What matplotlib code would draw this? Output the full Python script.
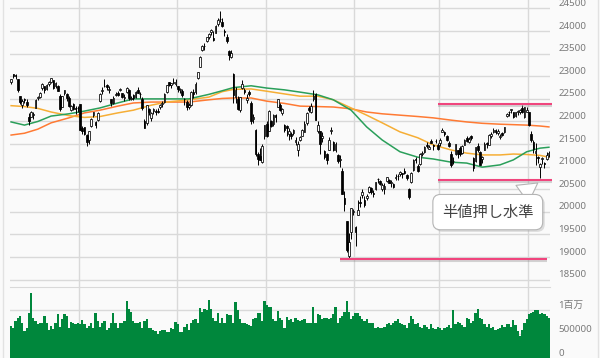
import matplotlib
matplotlib.use("Agg")
import matplotlib.pyplot as plt
import matplotlib.patheffects as pe
import matplotlib.transforms as mtransforms
from matplotlib.lines import Line2D
import numpy as np

BG = "#fafafa"
GRID = "#d9d9d9"
LABEL = "#7a7a7a"
PINK = "#f0457d"
VOL_GREEN = "#00873c"
FONT = ["Noto Sans", "Noto Sans CJK JP", "DejaVu Sans"]

# daily candles, 2018-05-18 .. 2019-05-20 (one row per month)
opens = [
    22880, 23040, 23020, 22930, 22560, 22370, 22500, 22430, 22100, 22100,
    22150, 22300, 22510, 22540, 22730, 22780, 22720, 22830, 22880, 22910, 22780, 22780, 22560, 22330, 22620, 22600, 22510, 22260, 22390, 22290, 22290,
    22380, 21850, 21870, 21700, 21580, 21890, 22150, 21980, 22030, 22450, 22680, 22780, 22800, 22700, 22500, 22420, 22580, 22640, 22690, 22620, 22520,
    22660, 22700, 22500, 22580, 22550, 22700, 22600, 22500, 22000, 21960, 22280, 22080, 22240, 22240, 22230, 22310, 22380, 22440, 22650, 22870, 22800, 22860, 22830,
    22780, 22700, 22680, 22500, 22440, 22330, 22360, 22650, 22660, 22960, 23210, 23580, 23660, 23790, 23870, 23970, 23850, 23960,
    24160, 24260, 24200, 24010, 23860, 23550, 23430, 23050, 22550, 22500, 22250, 22740, 22700, 22470, 22650, 22420, 22060, 21820, 21290, 21230, 21100, 21670,
    21950, 21800, 22000, 21950, 22140, 22330, 22360, 22190, 21920, 21900, 21720, 21720, 21750, 21550, 21360, 21590, 21690, 21770, 21970, 22300, 22210,
    22500, 22600, 21800, 21790, 21640, 21350, 21280, 21380, 21790, 21540, 21380, 21260, 21150, 20910, 20310, 19790, 19030, 19560, 20000,
    19660, 19940, 20220, 20370, 20270, 20300, 20450, 20530, 20410, 20500, 20720, 20680, 20500, 20510, 20690, 20700, 20630, 20610, 20740,
    20800, 20830, 20850, 20900, 20820, 20510, 20670, 20930, 21170, 21020, 21060, 21280, 21330, 21470, 21400, 21560, 21480, 21560, 21490,
    21520, 21770, 21760, 21680, 21530, 21290, 21120, 21280, 21360, 21410, 21300, 21490, 21640, 21550, 21690, 21200, 21130, 21460, 21320, 21170,
    21380, 21530, 21490, 21690, 21770, 21820, 21740, 21660, 21750, 21770, 22120, 22200, 22260, 22200, 22120, 22220, 22200, 22290, 22100, 22200,
    22200, 21720, 21550, 21310, 21210, 20990, 21180, 21080, 21170, 21270,
]
highs = [
    22950, 23050, 23050, 22950, 22570, 22490, 22520, 22500, 22180, 22240,
    22200, 22490, 22560, 22650, 22860, 22790, 22820, 22900, 22970, 22920, 22880, 22800, 22600, 22560, 22700, 22620, 22560, 22370, 22420, 22340, 22340,
    22390, 21900, 21880, 21720, 21800, 22080, 22200, 22020, 22200, 22620, 22770, 22950, 22830, 22780, 22500, 22560, 22650, 22680, 22750, 22640, 22600,
    22760, 22720, 22560, 22600, 22680, 22760, 22660, 22550, 22050, 22360, 22300, 22200, 22300, 22280, 22300, 22380, 22450, 22620, 22810, 22880, 22860, 22960, 22930,
    22780, 22740, 22710, 22530, 22480, 22410, 22680, 22720, 22870, 23100, 23440, 23700, 23740, 23880, 23960, 24040, 24000, 24140,
    24290, 24450, 24280, 24040, 23930, 23590, 23590, 23070, 22770, 22560, 22550, 22920, 22740, 22610, 22700, 22450, 22160, 21830, 21330, 21410, 21500, 21930,
    22010, 22260, 22040, 22160, 22170, 22490, 22400, 22290, 21950, 21930, 21860, 21770, 21830, 21650, 21560, 21680, 21830, 22010, 22200, 22350, 22410,
    22700, 22620, 22010, 21800, 21760, 21370, 21310, 21650, 21870, 21560, 21540, 21280, 21250, 20960, 20460, 19790, 19540, 20080, 20060,
    19690, 20270, 20350, 20500, 20350, 20400, 20580, 20540, 20480, 20670, 20750, 20710, 20630, 20640, 20780, 20720, 20700, 20630, 20830,
    20830, 20910, 20870, 20980, 20840, 20520, 20880, 21160, 21210, 21060, 21300, 21350, 21460, 21550, 21480, 21610, 21500, 21610, 21520,
    21640, 21860, 21800, 21700, 21560, 21340, 21220, 21510, 21370, 21450, 21470, 21610, 21670, 21650, 21710, 21210, 21430, 21520, 21340, 21230,
    21540, 21550, 21720, 21760, 21850, 21830, 21830, 21720, 21760, 21880, 22190, 22230, 22280, 22220, 22210, 22250, 22270, 22360, 22310, 22310,
    22200, 21790, 21590, 21520, 21230, 21080, 21210, 21100, 21320, 21350,
]
lows = [
    22820, 22960, 22950, 22660, 22380, 22300, 22420, 22320, 21930, 22090,
    22050, 22290, 22470, 22520, 22700, 22620, 22700, 22790, 22850, 22720, 22740, 22670, 22230, 22330, 22580, 22460, 22330, 22240, 22260, 22170, 22220,
    21810, 21720, 21700, 21460, 21500, 21880, 22100, 21850, 22000, 22440, 22600, 22760, 22700, 22620, 22350, 22380, 22560, 22560, 22670, 22520, 22450,
    22620, 22480, 22470, 22480, 22510, 22620, 22530, 22250, 21850, 21930, 22150, 22000, 22160, 22140, 22180, 22270, 22330, 22420, 22640, 22780, 22750, 22820, 22790,
    22660, 22620, 22540, 22360, 22250, 22270, 22340, 22520, 22610, 22940, 23200, 23550, 23590, 23750, 23820, 23920, 23780, 23950,
    24120, 24200, 24080, 23890, 23740, 23350, 23410, 22400, 22410, 22260, 22220, 22720, 22600, 22400, 22570, 21950, 21960, 21230, 21030, 21140, 21080, 21610,
    21660, 21780, 21870, 21900, 21980, 22310, 22230, 22140, 21770, 21690, 21600, 21620, 21700, 21490, 21240, 21560, 21690, 21760, 21930, 22220, 22190,
    22460, 22030, 21740, 21270, 21550, 21180, 21060, 21370, 21720, 21340, 21330, 21090, 20990, 20390, 20010, 19120, 18950, 19390, 19930,
    19240, 19940, 20100, 20310, 20100, 20260, 20420, 20390, 20330, 20490, 20650, 20590, 20470, 20400, 20670, 20630, 20540, 20520, 20700,
    20700, 20800, 20740, 20840, 20700, 20290, 20630, 20910, 21080, 20880, 21040, 21230, 21310, 21410, 21390, 21520, 21380, 21520, 21360,
    21450, 21760, 21680, 21560, 21440, 20990, 21050, 21250, 21200, 21240, 21280, 21480, 21550, 21530, 21590, 20910, 21110, 21330, 21030, 21090,
    21360, 21420, 21480, 21640, 21740, 21730, 21700, 21620, 21680, 21750, 22090, 22130, 22180, 22070, 22110, 22150, 22160, 22190, 22080, 22200,
    21910, 21550, 21300, 21040, 21090, 20750, 21050, 20980, 21150, 21220,
]
closes = [
    22930, 23000, 23000, 22690, 22440, 22450, 22480, 22360, 22020, 22200,
    22170, 22480, 22540, 22630, 22820, 22690, 22800, 22880, 22970, 22740, 22850, 22680, 22280, 22560, 22690, 22520, 22340, 22340, 22270, 22270, 22300,
    21810, 21790, 21720, 21550, 21790, 22050, 22200, 21930, 22190, 22600, 22700, 22790, 22760, 22700, 22400, 22510, 22610, 22590, 22710, 22540, 22550,
    22750, 22510, 22530, 22510, 22660, 22640, 22600, 22300, 21860, 22360, 22200, 22190, 22270, 22200, 22220, 22360, 22410, 22600, 22800, 22810, 22850, 22870, 22870,
    22710, 22700, 22580, 22490, 22310, 22370, 22660, 22600, 22820, 23090, 23420, 23670, 23670, 23870, 23940, 24030, 23800, 24120,
    24250, 24270, 24110, 23980, 23780, 23470, 23510, 22590, 22690, 22270, 22550, 22840, 22660, 22530, 22610, 22010, 22090, 21270, 21180, 21150, 21460, 21920,
    21690, 22240, 21900, 22150, 22090, 22490, 22250, 22270, 21810, 21850, 21800, 21680, 21820, 21580, 21510, 21650, 21810, 21950, 22180, 22260, 22350,
    22570, 22040, 21920, 21500, 21680, 21220, 21150, 21600, 21820, 21370, 21510, 21120, 21150, 20390, 20170, 19160, 19330, 20080, 20010,
    19560, 20040, 20200, 20430, 20160, 20360, 20560, 20440, 20400, 20670, 20720, 20620, 20590, 20570, 20770, 20650, 20660, 20560, 20770,
    20790, 20880, 20840, 20870, 20750, 20330, 20860, 21140, 21140, 20900, 21280, 21300, 21430, 21460, 21430, 21530, 21450, 21560, 21390,
    21600, 21820, 21730, 21600, 21460, 21030, 21130, 21500, 21290, 21290, 21450, 21580, 21570, 21610, 21630, 20980, 21430, 21380, 21030, 21210,
    21510, 21510, 21710, 21720, 21810, 21760, 21800, 21690, 21710, 21870, 22170, 22220, 22280, 22090, 22200, 22220, 22260, 22200, 22310, 22260,
    21920, 21600, 21400, 21340, 21190, 21070, 21190, 21060, 21250, 21300,
]
# volume in thousands of shares
volume_k = [
    670, 630, 780, 830, 870, 740, 560, 630, 930, 1350, 830, 780, 700, 720, 740, 870, 740, 590, 670, 610,
    740, 910, 650, 810, 910, 870, 630, 760, 740, 700, 720, 700, 800, 700, 630, 670, 740, 630, 930, 780,
    650, 740, 780, 590, 630, 740, 930, 740, 630, 740, 740, 780, 1190, 1020, 960, 780, 720, 740, 760, 630,
    780, 810, 630, 630, 590, 560, 500, 560, 590, 590, 540, 540, 630, 610, 760, 700, 540, 540, 650, 700,
    590, 740, 800, 810, 720, 1040, 960, 1020, 1000, 1200, 1020, 830, 780, 930, 740, 830, 720, 910, 890, 890,
    740, 1170, 1000, 810, 740, 720, 700, 690, 670, 810, 830, 940, 930, 780, 1190, 1110, 1060, 1060, 810, 780,
    980, 830, 800, 630, 850, 800, 810, 760, 830, 800, 780, 800, 810, 720, 720, 720, 1060, 740, 910, 890,
    810, 830, 830, 810, 830, 910, 1060, 720, 830, 870, 960, 1190, 960, 810, 870, 930, 930, 870, 810, 780,
    810, 740, 740, 720, 630, 650, 630, 630, 650, 700, 720, 690, 720, 780, 810, 740, 700, 690, 630, 720,
    870, 810, 700, 720, 650, 630, 690, 650, 610, 700, 630, 610, 650, 630, 590, 630, 650, 690, 630, 1000,
    700, 760, 720, 690, 650, 830, 810, 740, 780, 930, 1020, 830, 810, 700, 650, 700, 630, 650, 590, 610,
    630, 690, 650, 700, 700, 650, 800, 690, 560, 460, 590, 720, 810, 910, 930, 960, 1000, 1000, 910, 940,
    910, 870, 830,
]

# moving averages at these sessions
ma_days = [0, 6, 12, 18, 26, 33, 40, 48, 55, 63, 70, 80, 89, 95, 100, 108, 115, 123,
           130, 138, 145, 153, 160, 167, 175, 183, 190, 198, 205, 212, 220, 226, 232, 238, 242]
ma_green = [21990, 21920, 22000, 22120, 22170, 22230, 22300, 22410, 22500, 22500, 22500, 22500,
            22600, 22680, 22750, 22790, 22740, 22700, 22650, 22590, 22480, 22250, 21880, 21590,
            21330, 21210, 21170, 21100, 21080, 20990, 21040, 21150, 21330, 21410, 21430]
ma_yellow = [22350, 22330, 22290, 22210, 22130, 22090, 22110, 22190, 22250, 22360, 22430, 22480,
             22540, 22660, 22710, 22720, 22670, 22610, 22560, 22560, 22480, 22300, 22140, 21970,
             21770, 21640, 21480, 21370, 21300, 21260, 21260, 21280, 21270, 21250, 21210]
ma_red = [21700, 21740, 21830, 21970, 22080, 22190, 22250, 22340, 22410, 22430, 22430, 22430,
          22480, 22510, 22520, 22520, 22450, 22400, 22340, 22330, 22320, 22280, 22210, 22170,
          22140, 22110, 22080, 22030, 21990, 21960, 21940, 21930, 21920, 21900, 21880]

# first session of Jul, Sep, Nov, Jan, Mar, May
month_starts = [31, 75, 115, 155, 193, 233]

price_ticks = list(range(18500, 25000, 500))
vol_ticks = [0, 500, 1000]
vol_tick_labels = ["0", "500000", "1百万"]

# horizontal marker lines: level, first session, last session
level_values = [22380, 20700, 18950]
level_from = [192, 192, 148]
level_to = [243.5, 243.5, 241]

o = np.array(opens)
h = np.array(highs)
l = np.array(lows)
c = np.array(closes)
x = np.arange(len(c))
up = c >= o

fig = plt.figure(figsize=(6, 3.58), dpi=100, facecolor=BG)
ax = fig.add_axes([10 / 600, 1 - 287 / 358, 540 / 600, 287 / 358], facecolor=BG)
axv = fig.add_axes([10 / 600, 0, 540 / 600, 71 / 358], facecolor=BG, sharex=ax)

# labels sit a few pixels above their grid line
lift = mtransforms.ScaledTranslation(0, 5 / 100, fig.dpi_scale_trans)

for a in (ax, axv):
    for s in a.spines.values():
        s.set_visible(False)
    a.tick_params(length=0, labelleft=False, labelbottom=False)
    for m in month_starts:
        a.axvline(m - 0.5, color=GRID, lw=1, zorder=0)

ax.set_xlim(-0.5, len(c) - 0.5)
ax.set_ylim(18338, 24688)
ax.set_yticks(price_ticks)
ax.set_xticks([])
ax.grid(axis="y", color=GRID, lw=1, zorder=0)
for v in price_ticks:
    ax.text(1.015, v, str(v), transform=ax.get_yaxis_transform() + lift, va="center",
            ha="left", fontsize=7, color=LABEL, family=FONT)

# moving averages
ax.plot(ma_days, ma_red, color="#ff7a33", lw=1.1, zorder=2)
ax.plot(ma_days, ma_yellow, color="#f6ae35", lw=1.1, zorder=2)
ax.plot(ma_days, ma_green, color="#2a9f5a", lw=1.1, zorder=2)

# candles
ax.vlines(x, l, h, color="black", lw=0.7, zorder=3)
body_lo = np.minimum(o, c)
body_h = np.maximum(np.abs(c - o), 10)
ax.bar(x[up], body_h[up], bottom=body_lo[up], width=0.75, color="white",
       edgecolor="black", linewidth=0.55, zorder=4)
ax.bar(x[~up], body_h[~up], bottom=body_lo[~up], width=0.75, color="black",
       edgecolor="black", linewidth=0.55, zorder=4)

# level lines
shadow = [pe.SimpleLineShadow(offset=(0, -1.5), shadow_color="#888888", alpha=0.35), pe.Normal()]
for lv, x0, x1 in zip(level_values, level_from, level_to):
    ax.hlines(lv, x0, x1, color=PINK, lw=1.5, zorder=5, clip_on=False, path_effects=shadow)

# callout
ann = ax.annotate(
    "半値押し水準", xy=(237, 20640), xytext=(-36, -21), textcoords="offset points",
    ha="center", va="center", fontsize=11, color="#444444", family=["Noto Sans CJK JP"],
    bbox=dict(boxstyle="round,pad=0.6,rounding_size=0.5", fc="white", ec="#b4b4b4", lw=0.8),
    arrowprops=dict(arrowstyle="wedge,tail_width=1.4,shrink_factor=0.5", fc="white",
                    ec="#b4b4b4", lw=0.8, relpos=(0.73, 1.0), shrinkA=0, shrinkB=0),
    zorder=6,
)
ann.get_bbox_patch().set_path_effects(
    [pe.withSimplePatchShadow(offset=(1.5, -1.5), shadow_rgbFace="#999999", alpha=0.3)])

# volume
axv.bar(x, volume_k, width=1.0, color=VOL_GREEN, linewidth=0, zorder=2)
axv.set_ylim(167, 1481)
axv.set_yticks(vol_ticks)
axv.grid(axis="y", color=GRID, lw=1, zorder=0)
axv.spines["top"].set_visible(True)
axv.spines["top"].set_color(GRID)
for v, t in zip(vol_ticks, vol_tick_labels):
    axv.text(1.015, v, t, transform=axv.get_yaxis_transform() + lift, va="center",
             ha="left", fontsize=7, color=LABEL, family=FONT)

# panel borders
fig.add_artist(Line2D([2.5 / 600, 2.5 / 600], [0, 1], color="#e2e2e2", lw=1))
fig.add_artist(Line2D([597.5 / 600, 597.5 / 600], [0, 1], color="#e2e2e2", lw=1))

fig.savefig("out.png", dpi=100, facecolor=BG)
